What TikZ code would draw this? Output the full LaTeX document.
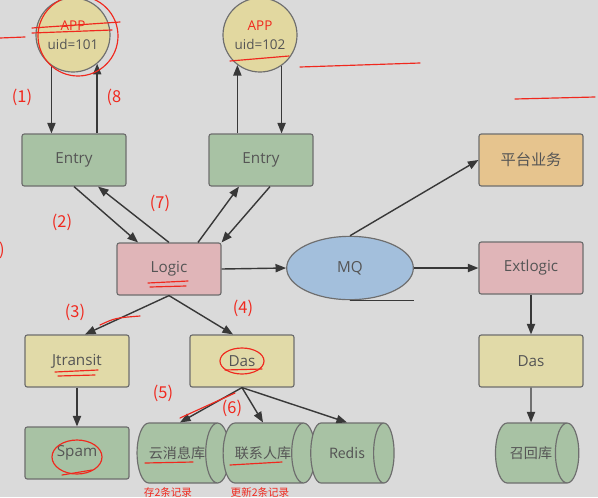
\documentclass[tikz,border=0pt]{standalone}
\usepackage{fontspec}
\setmainfont{Open Sans}
\newfontfamily\cjk{Noto Sans CJK SC}
\usetikzlibrary{shapes.geometric,arrows.meta,calc}

\definecolor{bgc}{HTML}{DADADA}
\definecolor{edgec}{HTML}{6E6E6E}
\definecolor{txtc}{HTML}{555555}
\definecolor{greenc}{HTML}{A8C2A4}
\definecolor{yellowc}{HTML}{E1DAA8}
\definecolor{pinkc}{HTML}{E0B5B8}
\definecolor{bluec}{HTML}{A3BFDC}
\definecolor{orangec}{HTML}{E6C48E}
\definecolor{appc}{HTML}{E2D8A0}
\definecolor{penc}{HTML}{F0281E}

\begin{document}
\begin{tikzpicture}[x=0.03cm, y=-0.03cm, font=\fontsize{13}{15}\selectfont,
        box/.style={draw=edgec, line width=1pt, rounded corners=2pt, text=txtc,
          minimum width=3.12cm, minimum height=1.56cm, inner sep=0pt},
        appnode/.style={circle, draw=edgec, line width=1pt, fill=appc, text=txtc,
          minimum size=2.22cm, align=center, inner sep=0pt, font=\fontsize{11.5}{16}\selectfont},
        store/.style={cylinder, draw=edgec, line width=1pt, fill=greenc, text=txtc,
          shape aspect=1.8, minimum width=1.8cm, minimum height=2.5cm, inner sep=0pt,
          font=\cjk\fontsize{12}{14}\selectfont},
        link/.style={draw=black!78, line width=1.2pt, -{Triangle[length=9pt,width=7pt]}},
        pen/.style={penc, line width=1pt, line cap=round},
        note/.style={text=penc, font=\cjk\fontsize{14}{16}\selectfont}]
        \useasboundingbox (0,0) rectangle (598,497);
        \clip (0,0) rectangle (598,497);
        \fill[bgc] (0,0) rectangle (598,497);

        % apps
        \node[appnode] (app1) at (73,35) {\textcolor{penc}{APP}\\uid=101};
        \node[appnode] (app2) at (260,35) {\textcolor{penc}{APP}\\uid=102};

        % boxes
        \foreach \x/\y/\n/\c/\t in {74/160/entry1/greenc/Entry, 261/160/entry2/greenc/Entry,
            169/269/logic/pinkc/Logic, 531/160/plat/orangec/{\cjk 平台业务},
            531/268/ext/pinkc/Extlogic, 77/361/jt/yellowc/Jtransit, 242/361/das1/yellowc/Das,
            531/361/das2/yellowc/Das, 77/453/spam/greenc/Spam}{
        \node[box, fill=\c] (\n) at (\x,\y) {\t};
        }
        \node[ellipse, draw=edgec, line width=1pt, fill=bluec, text=txtc,
          minimum width=3.8cm, minimum height=1.9cm] (mq) at (350,268) {MQ};

        % stores
        \foreach \x/\n/\t in {177/yun/云消息库, 263/lxr/联系人库, 347/redis/Redis, 531/zhh/召回库}{
        \node[store] (\n) at (\x,453) {\t};
        }

        % connectors
        \draw[link] (app1.235) -- (app1.235 |- entry1.north);
        \draw[link] (app1.310 |- entry1.north) -- (app1.310);
        \draw[link] (app2.233 |- entry2.north) -- (app2.233);
        \draw[link] (app2.305) -- (app2.305 |- entry2.north);
        \draw[link] (entry1.south) -- ($(logic.north)+(-31,0)$);
        \draw[link] (logic.north) -- ($(entry1.south)+(24,0)$);
        \draw[link] ($(logic.north)+(29,0)$) -- ($(entry2.south)+(-22,0)$);
        \draw[link] ($(entry2.south)+(9,0)$) -- (logic.north east);
        \draw[link] (logic.east) -- (mq.west);
        \draw[link] (mq.north) -- (plat.west);
        \draw[link] (mq.east) -- (ext.west);
        \draw[link] (ext.south) -- (das2.north);
        \draw[link] (das2.south) -- (zhh.north);
        \draw[link] (logic.south) -- ($(jt.north)+(8,0)$);
        \draw[link] (logic.south) -- ($(das1.north)+(-9,0)$);
        \draw[link] (jt.south) -- (spam.north);
        \draw[link] (das1.south) -- ($(yun.north)+(3,0)$);
        \draw[link] (das1.south) -- (lxr.north);
        \draw[link] (das1.south) -- (redis.north);
        \draw[black!78, line width=1.2pt] (mq.south) -- ++(64,0);

        % pen notes
        \node[note] (n1) at (22,97) {(1)};
        \node[note] (n8) at (114,97) {(8};
        \node[note] (n2) at (62,222) {(2)};
        \node[note] (n7) at (160,203) {(7)};
        \node[note] (n3) at (75,312) {(3)};
        \node[note] (n4) at (243,308) {(4)};
        \node[note] (n5) at (163,393) {(5)};
        \node[note] (n6) at (232,408) {(6)};
        \node[note] (nb) at (2,250) {)};
        \node[note, font=\cjk\fontsize{9}{10}\selectfont] (r1) at (168,492) {存2条记录};
        \node[note, font=\cjk\fontsize{9}{10}\selectfont] (r2) at (260,492) {更新2条记录};
        \draw[pen] (148,283) -- (188,281) (150,287) -- (186,286);
        \draw[pen] (55,372) -- (98,370) (58,376) -- (95,375);
        \draw[pen] (225,370) -- (262,369);
        \draw[pen] (242,361) ellipse (22 and 13);
        \draw[pen] (77,457) ellipse (25 and 17);
        \draw[pen] (62,475) -- (92,470);
        \draw[pen] (145,463) -- (193,462);
        \draw[pen] (230,465) -- (282,462);
        \draw[pen] (230,61) -- (289,56);
        \draw[pen] (78,36) circle (40);
        \draw[pen] (0,38) -- (25,37) (32,28) -- (120,22) (32,33) -- (112,30);
        \draw[pen] (235,393) -- (180,418);
        \draw[pen] (100,325) .. controls (115,318) .. (140,316);
        \draw[pen] (300,67) -- (420,63);
        \draw[pen] (515,99) -- (595,97);
\end{tikzpicture}
\end{document}
